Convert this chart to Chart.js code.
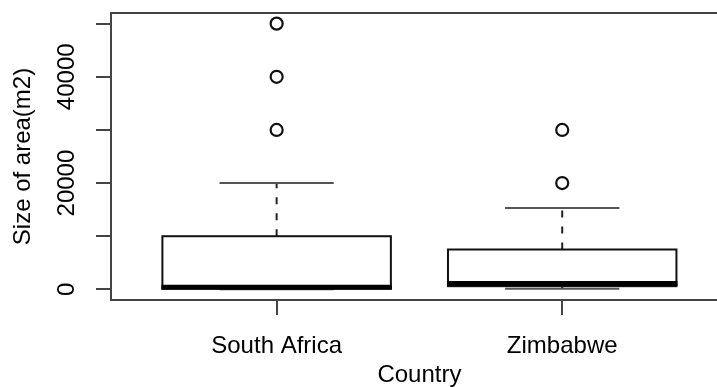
<!DOCTYPE html>
<html><head><meta charset="utf-8">
<script src="https://cdn.jsdelivr.net/npm/chart.js@4/dist/chart.umd.min.js"></script>
<style>html,body{margin:0;padding:0;background:#fff;overflow:hidden}</style>
</head><body>
<canvas id="c" width="717" height="387"></canvas>
<script>
const categories = ['South Africa', 'Zimbabwe'];
const positions = [1, 2];
const whiskerLow = [0, 100];
const q1 = [150, 600];
const median = [400, 1100];
const q3 = [10000, 7500];
const whiskerHigh = [20000, 15300];
const outliersSouthAfrica = [30000, 40000, 50000];
const outliersZimbabwe = [20000, 30000];
const yTickValues = [0, 10000, 20000, 30000, 40000, 50000];
const yTickLabels = ['0', '', '20000', '', '40000', ''];
const xTitle = 'Country';
const yTitle = 'Size of area(m2)';

const FONT = '"Liberation Sans", Arial, sans-serif';
const outlierPoints = [
  ...outliersSouthAfrica.map(v => ({x: positions[0], y: v})),
  ...outliersZimbabwe.map(v => ({x: positions[1], y: v}))
];

function seg(ctx, x1, y1, x2, y2) {
  ctx.beginPath(); ctx.moveTo(x1, y1); ctx.lineTo(x2, y2); ctx.stroke();
}

const boxPlugin = {
  id: 'rbox',
  beforeDatasetsDraw(chart) {
    const {ctx, chartArea: a} = chart;
    const x = chart.scales.x, y = chart.scales.y;
    ctx.save();
    ctx.lineCap = 'butt';
    ctx.strokeStyle = '#444'; ctx.lineWidth = 2;
    ctx.beginPath();
    ctx.moveTo(a.right + 20, a.top); ctx.lineTo(a.left, a.top);
    ctx.lineTo(a.left, a.bottom); ctx.lineTo(a.right + 20, a.bottom);
    ctx.stroke();
    positions.forEach((p, i) => {
      const xc = x.getPixelForValue(p);
      const xl = x.getPixelForValue(p - 0.4), xr = x.getPixelForValue(p + 0.4);
      const cl = x.getPixelForValue(p - 0.2), cr = x.getPixelForValue(p + 0.2);
      const yq1 = y.getPixelForValue(q1[i]), yq3 = y.getPixelForValue(q3[i]);
      const ym = y.getPixelForValue(median[i]);
      const ylo = y.getPixelForValue(whiskerLow[i]), yhi = y.getPixelForValue(whiskerHigh[i]);
      ctx.setLineDash([7, 9]); ctx.lineWidth = 2; ctx.strokeStyle = '#222';
      seg(ctx, xc, yq3, xc, yhi);
      seg(ctx, xc, yq1, xc, ylo);
      ctx.setLineDash([]);
      ctx.strokeStyle = '#555';
      seg(ctx, cl, yhi, cr, yhi);
      seg(ctx, cl, ylo, cr, ylo);
      ctx.fillStyle = '#fff';
      ctx.fillRect(xl, yq3, xr - xl, yq1 - yq3);
      ctx.strokeStyle = '#111'; ctx.lineWidth = 2;
      ctx.strokeRect(xl, yq3, xr - xl, yq1 - yq3);
      ctx.lineWidth = 5; ctx.strokeStyle = '#000';
      seg(ctx, xl - 1, ym, xr + 1, ym);
    });
    ctx.restore();
  },
  afterDraw(chart) {
    const {ctx} = chart;
    const x = chart.scales.x, y = chart.scales.y;
    ctx.save();
    ctx.fillStyle = '#000';
    ctx.font = '24px ' + FONT;
    ctx.textAlign = 'center';
    ctx.textBaseline = 'alphabetic';
    yTickValues.forEach((v, i) => {
      if (!yTickLabels[i]) return;
      ctx.save();
      ctx.translate(74, y.getPixelForValue(v));
      ctx.rotate(-Math.PI / 2);
      ctx.fillText(yTickLabels[i], 0, 0);
      ctx.restore();
    });
    // x-axis title centred on the full plot region (positions midpoint)
    const mid = (positions[0] + positions[positions.length - 1]) / 2;
    ctx.textBaseline = 'middle';
    ctx.fillText(xTitle, x.getPixelForValue(mid), 375);
    ctx.restore();
  }
};

new Chart(document.getElementById('c'), {
  type: 'scatter',
  data: {
    datasets: [{
      data: outlierPoints,
      pointRadius: 6,
      pointHoverRadius: 6,
      borderWidth: 2.2,
      borderColor: '#111',
      backgroundColor: '#fff'
    }]
  },
  options: {
    responsive: false,
    animation: false,
    events: [],
    layout: {autoPadding: false, padding: {top: 13, right: 0, bottom: 0, left: 0}},
    plugins: {legend: {display: false}, tooltip: {enabled: false}},
    scales: {
      x: {
        type: 'linear', position: 'bottom', min: 0.42, max: 2.542,
        afterBuildTicks: s => { s.ticks = positions.map(v => ({value: v})); },
        afterFit: s => { s.height = 87; s.paddingLeft = 0; s.paddingRight = 0; },
        border: {display: false},
        grid: {drawOnChartArea: false, drawTicks: true, tickLength: 15, color: '#444', lineWidth: 2},
        ticks: {
          autoSkip: false, maxRotation: 0, minRotation: 0, padding: 17,
          color: '#000', font: {family: FONT, size: 24},
          callback: v => categories[positions.indexOf(v)] || ''
        },
        title: {display: false, text: xTitle}
      },
      y: {
        type: 'linear', position: 'left', min: -2000, max: 52000,
        afterBuildTicks: s => { s.ticks = yTickValues.map(v => ({value: v})); },
        afterFit: s => { s.width = 111; s.paddingTop = 0; s.paddingBottom = 0; },
        border: {display: false},
        grid: {drawOnChartArea: false, drawTicks: true, tickLength: 15, color: '#444', lineWidth: 2},
        ticks: {display: false},
        title: {display: true, text: yTitle, color: '#000',
          font: {family: FONT, size: 24, lineHeight: 1}, padding: {top: 11, bottom: 0}}
      }
    }
  },
  plugins: [boxPlugin]
});
</script>
</body></html>
